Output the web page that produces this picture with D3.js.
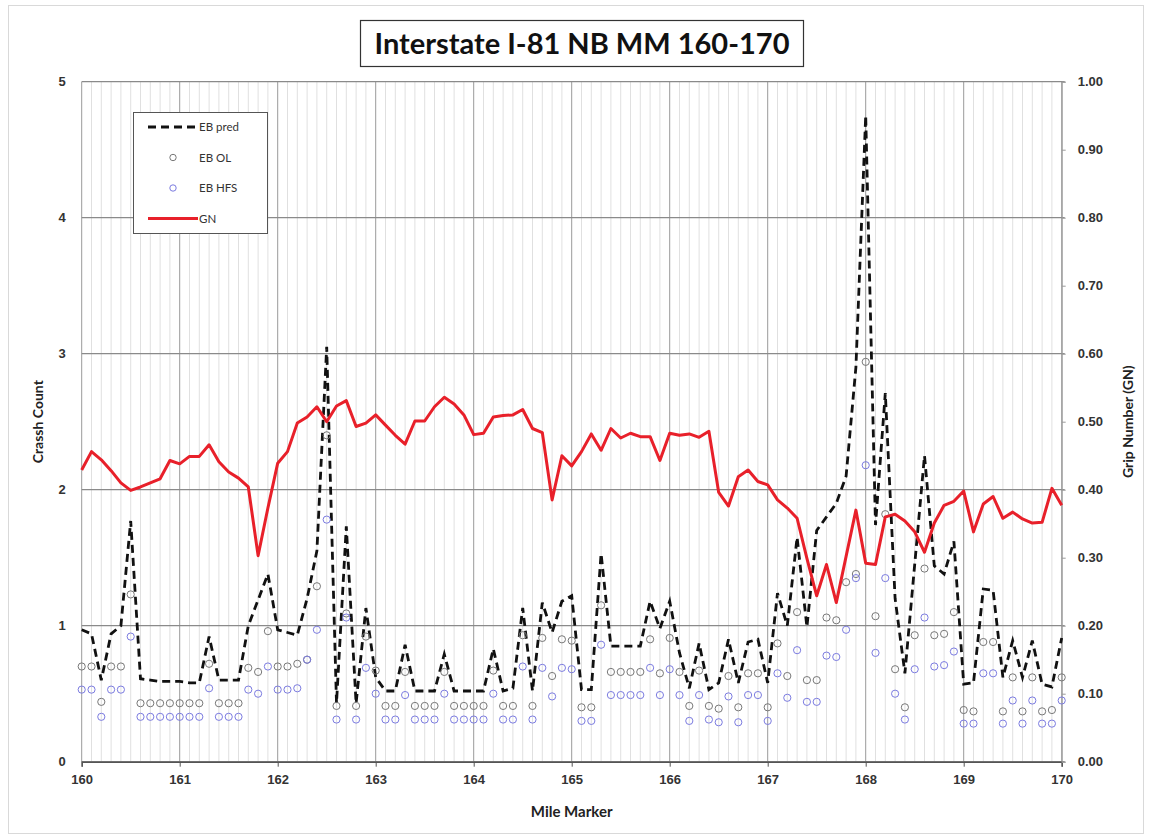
<!DOCTYPE html>
<html>
<head>
<meta charset="utf-8">
<script src="https://cdn.jsdelivr.net/npm/d3@7"></script>
<style>
  body { margin: 0; background: #fff; }
  svg { display: block; font-family: Lato, "Open Sans", sans-serif; }
</style>
</head>
<body>
<div id="chart"></div>
<script>
// Mile markers (0.1 mile steps)
const mileMarkers = [
  160.0,160.1,160.2,160.3,160.4,160.5,160.6,160.7,160.8,160.9,
  161.0,161.1,161.2,161.3,161.4,161.5,161.6,161.7,161.8,161.9,
  162.0,162.1,162.2,162.3,162.4,162.5,162.6,162.7,162.8,162.9,
  163.0,163.1,163.2,163.3,163.4,163.5,163.6,163.7,163.8,163.9,
  164.0,164.1,164.2,164.3,164.4,164.5,164.6,164.7,164.8,164.9,
  165.0,165.1,165.2,165.3,165.4,165.5,165.6,165.7,165.8,165.9,
  166.0,166.1,166.2,166.3,166.4,166.5,166.6,166.7,166.8,166.9,
  167.0,167.1,167.2,167.3,167.4,167.5,167.6,167.7,167.8,167.9,
  168.0,168.1,168.2,168.3,168.4,168.5,168.6,168.7,168.8,168.9,
  169.0,169.1,169.2,169.3,169.4,169.5,169.6,169.7,169.8,169.9,
  170.0
];

const ebPred = [
  0.97,0.94,0.60,0.94,1.00,1.77,0.61,0.60,0.59,0.59,
  0.59,0.58,0.58,0.92,0.60,0.60,0.60,1.00,1.19,1.38,
  0.97,0.95,0.93,1.20,1.55,3.05,0.43,1.73,0.43,1.13,
  0.62,0.52,0.52,0.86,0.52,0.52,0.52,0.79,0.52,0.52,
  0.52,0.52,0.83,0.52,0.54,1.13,0.52,1.17,0.95,1.18,
  1.22,0.53,0.53,1.53,0.85,0.85,0.85,0.85,1.18,0.98,
  1.18,0.80,0.54,0.87,0.53,0.58,0.90,0.58,0.88,0.90,
  0.58,1.24,1.00,1.65,0.99,1.70,1.80,1.90,2.10,2.90,
  4.75,1.74,2.71,1.20,0.65,1.45,2.25,1.44,1.38,1.62,
  0.57,0.58,1.27,1.26,0.62,0.89,0.62,0.89,0.57,0.55,
  0.91
];

const ebOL = [
  0.70,0.70,0.44,0.70,0.70,1.23,0.43,0.43,0.43,0.43,
  0.43,0.43,0.43,0.72,0.43,0.43,0.43,0.69,0.66,0.96,
  0.70,0.70,0.72,0.75,1.29,2.40,0.41,1.09,0.41,0.92,
  0.67,0.41,0.41,0.66,0.41,0.41,0.41,0.66,0.41,0.41,
  0.41,0.41,0.67,0.41,0.41,0.93,0.41,0.91,0.63,0.90,
  0.89,0.40,0.40,1.15,0.66,0.66,0.66,0.66,0.90,0.65,
  0.91,0.66,0.41,0.67,0.41,0.39,0.63,0.40,0.65,0.65,
  0.40,0.87,0.63,1.10,0.60,0.60,1.06,1.04,1.32,1.38,
  2.94,1.07,1.82,0.68,0.40,0.93,1.42,0.93,0.94,1.10,
  0.38,0.37,0.88,0.88,0.37,0.62,0.37,0.62,0.37,0.38,
  0.62
];

const ebHFS = [
  0.53,0.53,0.33,0.53,0.53,0.92,0.33,0.33,0.33,0.33,
  0.33,0.33,0.33,0.54,0.33,0.33,0.33,0.53,0.50,0.70,
  0.53,0.53,0.54,0.75,0.97,1.78,0.31,1.06,0.31,0.69,
  0.50,0.31,0.31,0.49,0.31,0.31,0.31,0.50,0.31,0.31,
  0.31,0.31,0.50,0.31,0.31,0.70,0.31,0.69,0.48,0.69,
  0.68,0.30,0.30,0.86,0.49,0.49,0.49,0.49,0.69,0.49,
  0.68,0.49,0.30,0.49,0.31,0.29,0.48,0.29,0.49,0.49,
  0.30,0.65,0.47,0.82,0.44,0.44,0.78,0.77,0.97,1.35,
  2.18,0.80,1.35,0.50,0.31,0.68,1.06,0.70,0.71,0.81,
  0.28,0.28,0.65,0.65,0.28,0.45,0.28,0.45,0.28,0.28,
  0.45
];

const gripNumber = [
  0.429,0.456,0.444,0.428,0.410,0.399,0.404,0.410,0.416,0.443,
  0.438,0.449,0.449,0.466,0.441,0.426,0.417,0.404,0.303,0.373,
  0.439,0.456,0.498,0.507,0.522,0.500,0.523,0.531,0.493,0.498,
  0.510,0.495,0.480,0.467,0.501,0.501,0.522,0.536,0.526,0.510,
  0.481,0.483,0.507,0.509,0.510,0.518,0.490,0.484,0.385,0.450,
  0.435,0.456,0.482,0.458,0.490,0.476,0.483,0.478,0.478,0.443,
  0.483,0.480,0.482,0.477,0.486,0.396,0.376,0.419,0.429,0.412,
  0.407,0.385,0.373,0.358,0.299,0.244,0.290,0.234,0.302,0.370,
  0.292,0.290,0.360,0.364,0.354,0.338,0.308,0.351,0.377,0.383,
  0.398,0.338,0.379,0.390,0.358,0.367,0.357,0.351,0.352,0.402,
  0.377
];

const xTicks = [160, 161, 162, 163, 164, 165, 166, 167, 168, 169, 170];
const leftTicks = [0, 1, 2, 3, 4, 5];
const rightTicks = [0, 0.1, 0.2, 0.3, 0.4, 0.5, 0.6, 0.7, 0.8, 0.9, 1.0];

const width = 1152, height = 839;
const margin = { top: 81.7, right: 90.3, bottom: 77.3, left: 81.7 };

const svg = d3.select('#chart').append('svg')
  .attr('width', width)
  .attr('height', height);

// outer chart frame
svg.append('rect')
  .attr('x', 8.5).attr('y', 5.5)
  .attr('width', 1135).attr('height', 828)
  .attr('fill', '#fff')
  .attr('stroke', '#d9d9d9');

const x = d3.scaleLinear()
  .domain([160, 170])
  .range([margin.left, width - margin.right]);

const y = d3.scaleLinear()
  .domain([0, 5])
  .range([height - margin.bottom, margin.top]);

const y2 = d3.scaleLinear()
  .domain([0, 1])
  .range([height - margin.bottom, margin.top]);

const grid = svg.append('g');

// minor vertical gridlines
grid.selectAll('line.minor')
  .data(mileMarkers.filter((d, i) => i % 10 !== 0))
  .enter().append('line')
  .attr('x1', d => x(d)).attr('x2', d => x(d))
  .attr('y1', y(0)).attr('y2', y(5))
  .attr('stroke', '#e0e0e0')
  .attr('stroke-width', 1);

// major vertical gridlines
grid.selectAll('line.majorx')
  .data(xTicks)
  .enter().append('line')
  .attr('x1', d => x(d)).attr('x2', d => x(d))
  .attr('y1', y(0)).attr('y2', y(5))
  .attr('stroke', '#9a9a9a')
  .attr('stroke-width', 1);

// horizontal gridlines
grid.selectAll('line.majory')
  .data(leftTicks)
  .enter().append('line')
  .attr('x1', x(160)).attr('x2', x(170) + 3)
  .attr('y1', d => y(d)).attr('y2', d => y(d))
  .attr('stroke', '#8a8a8a')
  .attr('stroke-width', 1.2);

// bottom axis
const xAxis = d3.axisBottom(x)
  .tickValues(xTicks)
  .tickSize(5)
  .tickPadding(8)
  .tickFormat(d3.format('d'));

const gx = svg.append('g')
  .attr('transform', `translate(0,${y(0)})`)
  .call(xAxis);
gx.select('.domain').attr('stroke', '#555').attr('stroke-width', 1.5);
gx.selectAll('.tick line').attr('stroke', '#555');
gx.selectAll('.tick text')
  .attr('font-size', 13).attr('font-weight', 'bold').attr('fill', '#333');

// left axis labels
const yAxis = d3.axisLeft(y)
  .tickValues(leftTicks)
  .tickSize(0)
  .tickPadding(16)
  .tickFormat(d3.format('d'));
const gy = svg.append('g')
  .attr('transform', `translate(${x(160)},0)`)
  .call(yAxis);
gy.select('.domain').remove();
gy.selectAll('.tick text')
  .attr('font-size', 13).attr('font-weight', 'bold').attr('fill', '#333');

// right axis
const y2Axis = d3.axisRight(y2)
  .tickValues(rightTicks)
  .tickSize(4)
  .tickPadding(12)
  .tickFormat(d3.format('.2f'));
const gy2 = svg.append('g')
  .attr('transform', `translate(${x(170)},0)`)
  .call(y2Axis);
gy2.select('.domain').attr('stroke', '#9a9a9a');
gy2.selectAll('.tick line').attr('stroke', '#9a9a9a');
gy2.selectAll('.tick text')
  .attr('font-size', 13).attr('font-weight', 'bold').attr('fill', '#333');

// EB pred dashed line
const predLine = d3.line()
  .x((d, i) => x(mileMarkers[i]))
  .y(d => y(d));

svg.append('path')
  .datum(ebPred)
  .attr('fill', 'none')
  .attr('stroke', '#111')
  .attr('stroke-width', 2.8)
  .attr('stroke-dasharray', '8,5')
  .attr('d', predLine);

// EB OL circles
svg.append('g').selectAll('circle')
  .data(ebOL)
  .enter().append('circle')
  .attr('cx', (d, i) => x(mileMarkers[i]))
  .attr('cy', d => y(d))
  .attr('r', 3.6)
  .attr('fill', 'none')
  .attr('stroke', '#777')
  .attr('stroke-width', 1);

// EB HFS circles
svg.append('g').selectAll('circle')
  .data(ebHFS)
  .enter().append('circle')
  .attr('cx', (d, i) => x(mileMarkers[i]))
  .attr('cy', d => y(d))
  .attr('r', 3.6)
  .attr('fill', 'none')
  .attr('stroke', '#7b7be0')
  .attr('stroke-width', 1);

// GN line on secondary axis
const gnLine = d3.line()
  .x((d, i) => x(mileMarkers[i]))
  .y(d => y2(d));

svg.append('path')
  .datum(gripNumber)
  .attr('fill', 'none')
  .attr('stroke', '#e8202a')
  .attr('stroke-width', 3)
  .attr('stroke-linejoin', 'round')
  .attr('d', gnLine);

// Title
svg.append('rect')
  .attr('x', 360.5).attr('y', 20.5)
  .attr('width', 443).attr('height', 46)
  .attr('fill', '#fff')
  .attr('stroke', '#333')
  .attr('stroke-width', 1.2);
svg.append('text')
  .attr('x', 582).attr('y', 54)
  .attr('text-anchor', 'middle')
  .attr('font-size', 29)
  .attr('font-weight', 'bold')
  .attr('fill', '#111')
  .text('Interstate I-81 NB MM 160-170');

// Axis titles
svg.append('text')
  .attr('transform', `translate(43,${(y(0) + y(5)) / 2}) rotate(-90)`)
  .attr('text-anchor', 'middle')
  .attr('font-size', 14).attr('font-weight', 'bold').attr('fill', '#222')
  .text('Crassh Count');

svg.append('text')
  .attr('transform', `translate(1133,${(y(0) + y(5)) / 2}) rotate(-90)`)
  .attr('text-anchor', 'middle')
  .attr('font-size', 14).attr('font-weight', 'bold').attr('fill', '#222')
  .text('Grip Number (GN)');

svg.append('text')
  .attr('x', (x(160) + x(170)) / 2).attr('y', 817)
  .attr('text-anchor', 'middle')
  .attr('font-size', 15).attr('font-weight', 'bold').attr('fill', '#222')
  .text('Mile Marker');

// Legend
const legend = svg.append('g').attr('transform', 'translate(133,112)');
legend.append('rect')
  .attr('x', 0.5).attr('y', 0.5)
  .attr('width', 134).attr('height', 121)
  .attr('fill', '#fff')
  .attr('stroke', '#555');

const legendItems = ['EB pred', 'EB OL', 'EB HFS', 'GN'];
legendItems.forEach((name, i) => {
  const ly = 15 + i * 30.5;
  if (name === 'EB pred') {
    legend.append('line')
      .attr('x1', 15).attr('x2', 64).attr('y1', ly).attr('y2', ly)
      .attr('stroke', '#111').attr('stroke-width', 2.8)
      .attr('stroke-dasharray', '8,5');
  } else if (name === 'GN') {
    legend.append('line')
      .attr('x1', 15).attr('x2', 65).attr('y1', ly).attr('y2', ly)
      .attr('stroke', '#e8202a').attr('stroke-width', 3);
  } else {
    legend.append('circle')
      .attr('cx', 40).attr('cy', ly).attr('r', 3.2)
      .attr('fill', 'none')
      .attr('stroke', name === 'EB OL' ? '#777' : '#7b7be0');
  }
  legend.append('text')
    .attr('x', 66).attr('y', ly + 4)
    .attr('font-size', 11.5).attr('fill', '#333')
    .text(name);
});
</script>
</body>
</html>
